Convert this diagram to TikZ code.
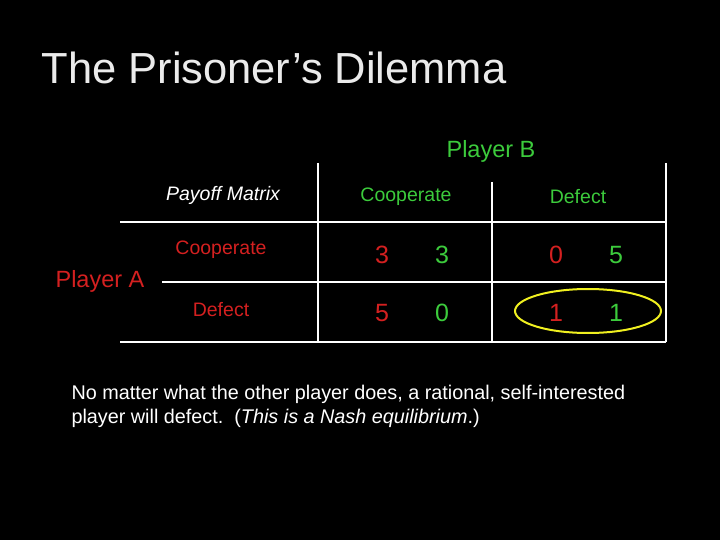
\documentclass[tikz,border=0pt]{standalone}
\usepackage{fontspec}
\setmainfont{Liberation Sans}
\usetikzlibrary{positioning}
\definecolor{spillerrod}{HTML}{D42020}
\definecolor{spillergronn}{HTML}{3CCB3C}
\definecolor{ringgul}{HTML}{F0F020}

\begin{document}
\begin{tikzpicture}[x=1pt,y=-1pt]
    \tikzset{
        grid/.style={draw=white, line width=1.6pt},
        rowlab/.style={text=spillerrod, font=\fontsize{19.5}{22}\selectfont},
        collab/.style={text=spillergronn, font=\fontsize{19.5}{22}\selectfont},
        payA/.style={text=spillerrod, font=\fontsize{25}{28}\selectfont},
        payB/.style={text=spillergronn, font=\fontsize{25}{28}\selectfont},
        body/.style={text=white, font=\fontsize{19.8}{24}\selectfont, anchor=west}
    }
    \fill[black] (0,0) rectangle (720,540);
    \useasboundingbox (0,0) rectangle (720,540);

    % Tittel
    \node[text=white!92!black, font=\fontsize{43.5}{48}\selectfont, anchor=west] (title) at (38,68) {The Prisoner’s Dilemma};

    % Rutenett
    \draw[grid] (120,222) -- (666,222);
    \draw[grid] (162,282) -- (666,282);
    \draw[grid] (120,342) -- (666,342);
    \draw[grid] (318,163) -- (318,342);
    \draw[grid] (492,182) -- (492,342);
    \draw[grid] (666,163) -- (666,342);

    % Overskrifter
    \node[collab, font=\fontsize{23.5}{26}\selectfont] (playerB) at (491,151) {Player B};
    \node[rowlab, font=\fontsize{23.5}{26}\selectfont] (playerA) at (100,281) {Player A};
    \node[text=white, font=\fontsize{19.5}{22}\selectfont\itshape] (payoff) at (223,195) {Payoff Matrix};
    \node[collab] (colC) at (406,197) {Cooperate};
    \node[collab] (colD) at (578,197) {Defect};
    \node[rowlab] (rowC) at (221,250) {Cooperate};
    \node[rowlab] (rowD) at (221,310) {Defect};

    % Utbetalinger
    \node[payA] (ccA) at (382,255) {3};
    \node[payB] (ccB) at (442,255) {3};
    \node[payA] (cdA) at (556,255) {0};
    \node[payB] (cdB) at (616,255) {5};
    \node[payA] (dcA) at (382,313) {5};
    \node[payB] (dcB) at (442,313) {0};
    \node[payA] (ddA) at (556,313) {1};
    \node[payB] (ddB) at (616,313) {1};

    % Likevekt
    \draw[ringgul, line width=2pt] (588,311) ellipse (73 and 22);

    % Tekst
    \node[body] (note1) at (68,394) {No matter what the other player does, a rational, self-interested};
    \node[body] (note2) at (68,418) {player will defect.\ \ (\textit{This is a Nash equilibrium}.)};
\end{tikzpicture}
\end{document}
